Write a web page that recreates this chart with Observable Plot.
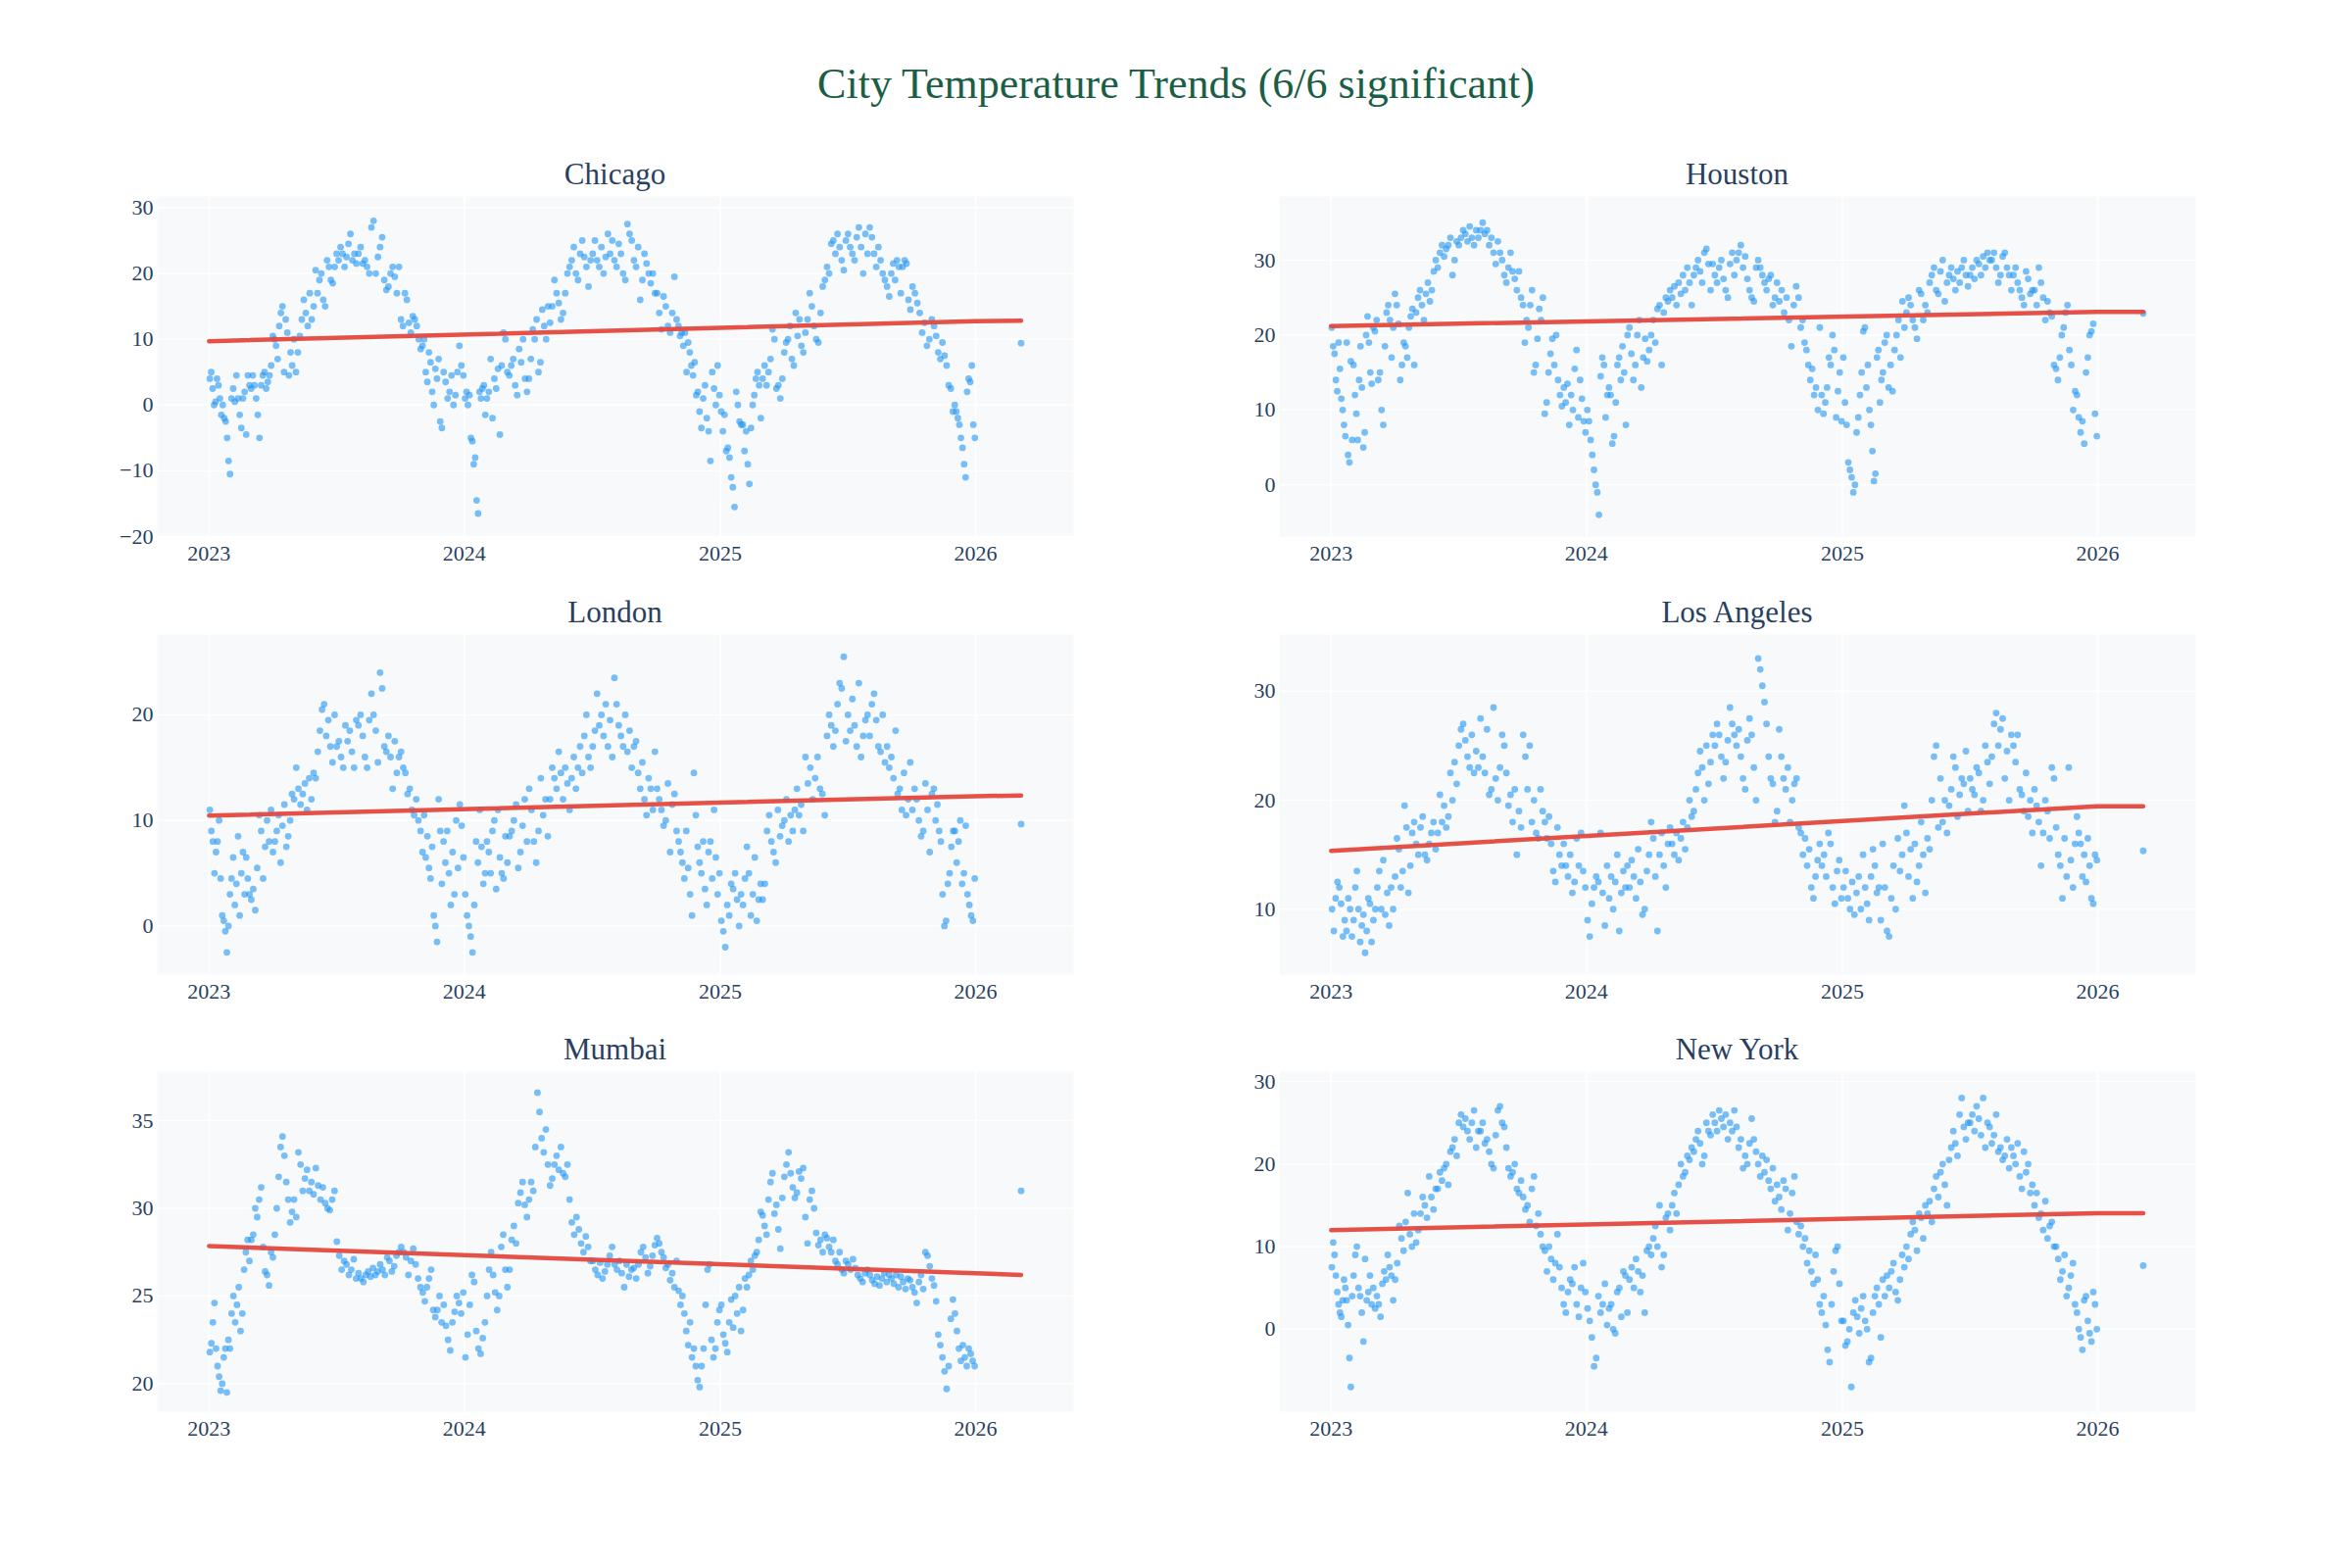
<!DOCTYPE html>
<html><head><meta charset="utf-8">
<script src="https://cdn.jsdelivr.net/npm/d3@7"></script>
<script src="https://cdn.jsdelivr.net/npm/@observablehq/plot@0.6"></script>
<style>
html,body{margin:0;padding:0;background:#fff;}
#root{position:relative;width:2400px;height:1600px;overflow:hidden;}
#root svg{position:absolute;}
</style>
</head><body><div id="root"></div>
<script>
// ---------------- data (monthly groups of daily readings, Jan 2023 .. Dec 2025) ----------------
const chartTitle = "City Temperature Trends (6/6 significant)";
const cityNames = ["Chicago","Houston","London","Los Angeles","Mumbai","New York"];
const xTickYears = [2023, 2024, 2025, 2026];
const firstDay = "2023-01-01", lastSeriesDay = "2025-12-31", extraDay = "2026-03-07";

const chicago = [
"4 5 2.5 0 0.5 4 3 1 -1.5 0 -2 -2.5 -5 -8.5 -10.5","1 2.5 0.5 4.5 1 -1.5 -3.5 1 2 -4.5 4.5 3","2.5 4.5 3 1 -1.5 -5 3 4.5 5 2.5 3.5 4.5 6","10.5 10 9 7 12 14 15 5 13 11 4.5 8 6",
"10 5 8 10.5 13 16 14 12 17 13 15","20.5 17 19 20 16 15 22 21 19 18.5 21","23 22 24 23 21 22.5 24.5 26 22 23 21.5","23 24 21.5 22 21 20 27 28 20 22.5",
"24 25.5 19 17.5 18 20 21 19.5 17 21","13 12 17 16 12.5 11 13.5 13 12 10 8.5","9 10 5 3.5 8 6.5 2 0 5.5 4 7 -2.5 -3.5","5 3.5 1 2 4.5 0 1.5 5 9 6 4.5",
"1 2 0 1.5 -5 -5.5 -9 -8 -14.5 -16.5 2 1 2.5 3 -1.5","1 2 7 -2 4 2.5 5.5 -4.5 6 11 10","5 4.5 6 7 3 1.5 8.5 6.5 10 4 2","4 7 11.5 10 13 5 6.5 14.5 12 10 15",
"12.5 15 19 17 15.5 13 14 17 20 21","22 24 20 19 23 25 22.5 21 18 22","23 25 22 21 24 20 22.5 26 23 25","22 21 24.5 23 20 19 27.5 26 25 22",
"21 24 16 19 23 21.5 20 18.5 20 17","17 14 11.5 16.5 15 12 11 14 19.5 13","12 10.5 11 9 11 5 9.5 8 6 4.5 6.5 1.5 2","-1 -3.5 1 3 -2 -4 -8.5 5 2.5 0 6 1.5",
"-1 -4 -1.5 -7 -6.5 -8 -11 -12.5 -15.5 2 0 -2.5 -3","-3 -7 -4 -9 -12 -3.5 0 1.5 4 5 3 -2","4 6 3 5 7 11.5 10 2.5 3 1 4","8 9.5 10 12 7 6 14 10.5 13 9 8",
"11 13 17 15 12 10 9.5 14 18 19","21 20 24.5 25 23 26 24 22 20.5 25","26 24 23 22 25.5 27 24 20 26 23","27 25.5 23 21 24 22 20 19 18 16.5",
"20 21.5 19 22 21 17 21 22 21.5 16 14.5","18 17 15.5 14 11 12.5 9 10 13","12 10.5 8 7 9.5 7.5 6 3 2.5 -1","0 -1 -2 -3 -5 -6.5 -9 -11 2 4 3.5 6 -3 -5"
];
const houston = [
"21 18.5 17.5 14 12.5 19 15.5 11.5 10 8 6.5 19 4 3 16.5 6","16 12 9.5 6 14 18.5 13 5 7 20 22.5 19 15 13.5","21 20.5 22 14 15 10 8 18.5 23 24 22 17 21","25.5 24 21.5 14 16 19 18.5 17 21 22.5 23.5 16",
"23 25 26 24 22 25.5 27 24.5 26 28.5 30","29 31 32 30.5 31.5 32 33 28 30 32.5","32 33 34 33.5 32.5 34.5 33 32 34 33","34 35 33.5 34 32 33 31 29.5 32.5 31",
"30 28 27 29 31 28.5 27.5 26 28.5 25","24 19 22 21 24 26 15 16 19.5 23.5 22 25","9.5 11 15 17.5 19.5 16 20 14 12 10.5 13","11 13.5 8 12 10 15.5 18 9 14 11.5 8.5 7",
"10 8.5 6 4 2 0 -1 -4 14.5 17 16 9 12","13 12 5.5 6.5 11 16 17 14 18.5 15 8 20","21 17.5 14 16 20 22 13 17 19.5 16.5 18","20 22 19 23.5 24 16 23 25 24.5 26",
"25 26.5 24 27 25.5 28 26 29 27 24","28 29 30 28.5 27 31 31.5 29.5 26 29.5","28 27 29 30 27.5 26 25 29.5 31 28","30 31 32 29 30.5 27.5 26 25 24.5 29",
"30 29 28 27 26 27.5 28 24 25 27","24.5 26 23 25 22 18.5 24 26.5 25","21 22 19 18 16 14 15.5 12 13 10 21","12 9.5 11 13 17 16 20 18 9 12.5 15 8.5",
"17 11 8 3 2 1 -1 0 7 9 12 15 20.5","21 13 16 10 8 4.5 0.5 1.5 17 18 11 14 15","19 20 13 16 12.5 18 20 22 17 24.5 21","23 25 24 22 21 19.5 26 25.5 22 24",
"23 27 28 29 26 25.5 28.5 30 24.5 27","28 29 27.5 26 28.5 27 29 30 28 26.5","28 29 27.5 30 29.5 28 30.5 29 31 30","30 31 29 27 28 30.5 31 29 28 26",
"28 29 27 26 25 24 28.5 27.5 25.5 26","26 24 29 27 25 22 24.5 23 22.5 16","15.5 14 17 20 21 23 24 18 16 10 12.5","12 9 7 8.5 5.5 15 17 20 20.5 21.5 9.5 6.5"
];
const london = [
"11 9 8 5 7 8 10 4.5 1 0.5 -0.5 -2.5 0 3","4.5 6.5 2 4 8.5 1 5 7 3 6.5 4.5 3","2.5 3.5 1.5 5.5 10.5 9 4.5 7.5 10 8 11","7 8 9 10.5 6 9.5 11.5 7.5 8.5 10 12.5",
"12 15 13 11.5 12.5 13.5 11 14 12 14.5","14 16.5 18.5 20.5 21 18 19.5 17 15.5 20","17 17.5 16 15 19 17.5 18.5 16.5 15 19.5","19 20 18 16 15 19.5 22 20 18.5 15.5",
"24 22.5 17 16.5 18 16 13 17.5 14.5 16","16.5 15 14.5 12.5 13 11 10.5 12 10 9","7 10.5 6.5 8.5 5.5 4.5 7.5 1 0 -1.5 12 9 4","8 6 9 5 2 7 3 10 5.5 11.5 9.5 6.5",
"3 1 0 -1 -2.5 2 8 6 11 7.5 4 5","8 7 5 9 10 3.5 11 6.5 5 4.5 8.5","6 8.5 9 10 11.5 5.5 7 9.5 12 8","13 11 8 6 9 14 10.5 12 8.5",
"12 15 14 13 16.5 14.5 12 15 13.5 11","14 16 13 15 17 14.5 18 20 16 15","17 18.5 22 19 20 18 21 17 19.5 16","23.5 21 19 18 17 20 16.5 18.5 15 17",
"17.5 14.5 13 15.5 12 10.5 14 13 11 16.5","13 12 11 9.5 10 13.5 7 11.5 12.5 9","8 7 6 4.5 9 5.5 3 1 14.5 10.5 7.5","6 5 8 3.5 2 7 8 4.5 11 6.5 3 5",
"0.5 -0.5 -2 2 1 4 3.5 5 2.5 0 3","2 4.5 7.5 5 1 3 6.5 0.5 2.5 4","2.5 4 9 10.5 8 7 6 11 8.5 9.5","10 12 8 10.5 9 11 13 10.5 11.5 9",
"16 13.5 15 12 14 16 13 12.5 10.5","18 20 19 17 18.5 21 23 22.5 25.5 17.5","20 18.5 21.5 19 17 23 16 18 19.5 20","18 21 22 19.5 17 16.5 20 15.5 17 15",
"16 14 18.5 12.5 13 11 14.5 10.5 12 15.5","11 13 12 10 8.5 9 13.5 11 7 12.5","13 10 11.5 9 8 3 0 0.5 4 5 7.5 9","9 6 8 10 4 5 9.5 3 2 1 0.5 4.5"
];
const losAngeles = [
"10 8 11 12.5 12 10.5 7.5 9 8 11 10 7.5","9 12 13.5 10 7 8.5 9.5 6 8 11 10.5 7","9 10 12 13.5 10 14.5 9.5 11.5 8.5 12 10","13 16.5 15.5 12 13.5 19.5 17.5 11.5 14 17 18",
"16 15 17.5 18.5 15 14.5 16 17 18 15.5","17 20.5 18 19.5 17.5 18.5 22.5 20 23.5 21.5","25 26.5 27 25.5 24 23 26 22.5 24.5 23","27.5 24 22.5 26.5 20.5 21 28.5 22 20 23",
"26 25 22.5 19.5 20.5 18 21 15 19 17.5","26 24 21 25 18 20 17 16.5 21 19","18 16.5 18.5 16 13.5 12.5 17.5 15 14 16","14 13 15 11.5 12.5 16.5 14 17 13.5 12",
"9 7.5 10.5 12 13 12.5 17 11.5 8.5 14","11 13 10 12.5 15 8 11.5 13.5 12 14","12 14.5 13 11 15.5 12.5 9.5 10 13.5 15","18 16.5 13 8 15 17 14 12 16 17.5",
"16 15 17 14.5 16.5 18 15.5 17.5 20 18.5","19 21 22.5 24.5 23 20 25 21.5 23.5 26","25 27 26 24 22 23.5 25.5 28.5 27 26","25 26.5 24 22 21 25.5 27.5 26 23 20",
"33 32 30.5 29 27 24 22 21.5 18 19","26.5 24 22 21 23 18 20 21.5 22 17.5","17 15 16.5 14 15.5 12 11 13 14.5 16","14 15 13 17 16 12 10.5 13.5 14.5 11",
"12 13.5 11 10 12.5 9.5 11.5 13 10 15","12 10.5 9 13 15.5 14 11.5 12 9 16","12 8 7.5 11 14 10 16.5 13.5 15 19.5","17 13 15.5 11 16 12.5 14 18 15 11.5",
"16.5 15.5 20 24 25 17.5 22 18 20 17","19.5 21 24 23 18.5 20.5 22 21.5 24.5 19","22 21 20.5 23 22.5 19 20 25 23.5 21.5","24 27 28 25 26.5 27.5 22 24.5 20 26",
"25 23.5 26 21 20.5 19 22.5 18.5 20 17","21 19.5 18 14 17 20 19 16.5 23 22","17.5 15 14 11 16.5 13 23 14.5 12 16","18.5 17 16 13 15 12.5 16.5 14 11 10.5 15 14.5"
];
const mumbai = [
"21.8 22.3 23.5 24.6 22 21 20.4 19.6 20 21.5 22 19.5 22.5 22","24 25 23.5 24.5 25.5 23 24 26.5 27.5 28.2 27","28.2 28.5 30 29.5 30.5 31.2 27.8 26.4 26.2 25.6 27.5","27.2 28.5 30 31.8 33.5 34.1 33 31.5 30.5 29.2 29.8",
"30.5 29.5 33.2 32.5 31 31.7 32.2 31 31.5 30.8","32.3 31.3 30.5 31.2 30.3 30 29.9 30.5 31","28.1 27.3 26.5 27 26.8 26.2 26.5 27.1 26","26.3 26 25.8 26.2 26.4 26.1 26.6 26.2 26.4",
"26.8 26.5 26.2 27.2 27 26.4 26.7 27.3 27.5","27.8 27.5 27.2 26.2 27 27.7 26.8 26 25.5","25.2 24.7 25.5 26 26.5 24.2 23.8 24.2 25 23.5","24.5 23.3 22.5 21.9 23.5 24.1 25 24.6 24 25.2",
"21.5 22.8 24.5 26.2 25.8 23 22 21.7 22.6 23.5","25 26.5 27.5 26.2 25.2 24.2 25 27.8 28.5 26.5","25.5 26.5 28.2 29 28 30.3 30.9 31.5 30.2 29.5","30.5 31.5 31 33.5 36.6 35.5 34 33.2 34.5 32.5",
"31.3 31.7 32.5 33 32.2 33.5 32 31.8 32.5 30.5","29.2 28.5 29.5 28.8 28 27.5 28.4 27.8 27","27 26.5 26.2 26.9 26 26.4 26.8 27.3 27.8","26.8 26.5 27 26.3 25.5 26.8 26.1 26.5 26.6",
"26 26.8 27.5 27.8 27.2 26.3 26.7 27.3 27.9","28.3 28 27.5 27.2 26.6 26.8 25.9 26.3 25.5 27","25.3 24.5 25 24 23 22.2 23.5 21.5 22 21 20.2","19.8 21 22 24.5 26.5 26.8 22.5 21.5 22 23.5 24.2",
"24.5 22.8 22.3 21.8 23.5 24.8 23.2 25 24 25.5 23","24.2 26 25.5 26.2 27 26.5 27.3 27.5 28.2 29.8","29.6 29 28.5 30.5 31.5 32 29.7 30.2 28.8 27.7 30.6","31.8 32.5 33.2 32 31.2 30.6 30.9 32.1 31.7 32.3",
"29.5 28 30.5 31 30 28.6 27.9 28.2 27.5 28.5","28.3 27.8 27.5 28.2 27 26.8 27.5 26.5 26.3 27","26.8 26.5 27.1 26.6 26.2 26 25.8 26.3 26.5","26.2 25.9 25.7 26.1 25.6 26 26.3 25.8 26.2",
"26 25.7 26.2 25.5 26.1 25.8 25.4 26 25.9","25.5 25.2 24.6 25.8 26.2 25.4 27.5 27.3 26.7 26","25.6 24.7 22.8 22.2 21.5 20.7 19.7 21 23.7 24.8","24 23 22 21.3 22.2 21.5 21 22 21.7 21.3 21"
];
const newYork = [
"7.5 10.5 9 6.5 4.5 3 2 1.5 3.5 6 5 3.5 0.5 -3.5 -7 4","6.5 9 10 5 4 2 -1.5 8.5 3.5 4.5 6.5 3","5 2.5 4 3 1.5 5.5 7 6 9 7.5 6.5 3.5","6 8 12.5 11 9.5 13 16.5 11.5 10 14",
"10.5 12 14 16 15 13.5 18.5 16 14.5 17","17 19 18 19.5 20 17.5 21.5 22 23 21","25 26 24.5 25.5 24 23 25 26.5 22 24","24 25 22.5 23 21.5 20 19.5 23.5 26.5 27",
"25 24.5 22 19.5 18.5 19 20 17 16.5 18","16 14.5 15 13 17 18.5 12.5 14 11.5 10","9.5 7 10 8.5 6 8 11.5 7.5 5 3","2 4.5 6 5.5 7.5 3 1.5 5 8 4.5",
"2.5 1 -1 -4.5 -3.5 4 2 3 5.5 0.5","2.5 3 0 -0.5 4.5 5 1.5 7 6.5 2","6 7.5 5 8.5 7 4.5 6.5 2 9.5 10","9 11 12.5 10 15 7.5 9 13.5 14 12",
"15 16.5 14 17.5 20 18.5 19 21 20.5 22","21.5 23 24 22.5 20 21 25 24 23.5 26","25 24 26.5 25.5 24.5 26 23 25 24 26.5","24.5 22 23 19.5 21 20 22.5 25.5 23 21.5",
"20 18.5 21 19 20.5 18 17 19.5 15.5 17.5","16 14.5 18 17 12 14 16.5 18.5 13 11.5","12.5 10 11 8 9.5 7 5.5 9 6 3","2 4 0.5 -2.5 -4 3 7 9.5 10 5.5 1",
"1 -2 -1.5 0 -7 2 3.5 1.5 -0.5 2.5 4","1 0 -4 -3.5 2 4 5 3 -1 6","4 6.5 5 7 8 4.5 3.5 6 9 7.5","10 8.5 11.5 13 12 9.5 14 13.5 11 15",
"14 15.5 13 17 18.5 16 19 20 17.5 15","20.5 22 24 22.5 21 26 28 24.5 23 25","25 26 24 27 25.5 23.5 28 22 25 24.5","22.5 23.5 26 21.5 22 20.5 21 23 19.5 22",
"21 20 22.5 18.5 17 21.5 19 20 16.5 17.5","15 16.5 13.5 14 12 15.5 11 12.5 13 10","10 8.5 6 7 9 4 5 6.5 8 3","2 0 -1 -2.5 3.5 4 1 -0.5 -1.5 4.5 3 0"
];
// fitted trend: value at first day, at last series day, at the extra reading
const trendChicago = [9.7, 12.75, 12.8], trendHouston = [21.2, 23.1, 23.1], trendLondon = [10.45, 12.3, 12.35];
const trendLosAngeles = [15.35, 19.45, 19.45], trendMumbai = [27.85, 26.3, 26.2], trendNewYork = [12.0, 14.05, 14.05];
// extra reading on extraDay
const extraValues = [9.4, 22.9, 9.65, 15.35, 31.0, 7.7];
// y axis ranges and ticks
const yRanges = [[-20, 31.7], [-6.9, 38.5], [-4.6, 27.6], [4.0, 35.2], [18.4, 37.8], [-10.0, 31.2]];
const yTickSets = [[-20,-10,0,10,20,30], [0,10,20,30], [0,10,20], [10,20,30], [20,25,30,35], [0,10,20,30]];

// ---------------- layout ----------------
const FONT = "'Liberation Serif','Times New Roman',serif";
const INK = "#2a3f5f";
const colLefts = [160, 1305], rowTops = [200, 647, 1093];
const PW = 935, PH = 347;
const mL = 80, mR = 20, mB = 50;
const xDomain = [new Date("2022-10-19"), new Date("2026-05-21")];
const xTicks = xTickYears.map(y => new Date(Date.UTC(y, 0, 1)));

const root = document.getElementById("root");
const monthlySets = [chicago, houston, london, losAngeles, mumbai, newYork];
const trends = [trendChicago, trendHouston, trendLondon, trendLosAngeles, trendMumbai, trendNewYork];

function expand(monthly) {
  const pts = [];
  monthly.forEach((s, m) => {
    const vals = s.trim().split(/\s+/).map(Number);
    const yr = 2023 + Math.floor(m / 12), mo = m % 12;
    const a = Date.UTC(yr, mo, 1), b = Date.UTC(yr, mo + 1, 1);
    vals.forEach((v, j) => pts.push({date: new Date(a + (j + 0.5) / vals.length * (b - a)), temp: v}));
  });
  return pts;
}

cityNames.forEach((name, i) => {
  const col = i % 2, row = Math.floor(i / 2);
  const left = colLefts[col], top = rowTops[row];
  const pts = expand(monthlySets[i]);
  pts.push({date: new Date(extraDay), temp: extraValues[i]});
  const tr = trends[i];
  const line = [
    {date: new Date(firstDay), temp: tr[0]},
    {date: new Date(lastSeriesDay), temp: tr[1]},
    {date: new Date(extraDay), temp: tr[2]}
  ];
  const chart = Plot.plot({
    width: PW + mL + mR, height: PH + mB,
    marginLeft: mL, marginRight: mR, marginTop: 0, marginBottom: mB,
    style: {fontFamily: FONT, fontSize: "22px", color: INK, background: "transparent", overflow: "visible"},
    x: {type: "utc", domain: xDomain},
    y: {domain: yRanges[i]},
    marks: [
      Plot.frame({fill: "#f8f9fb", stroke: "none"}),
      Plot.gridX(xTicks, {stroke: "#ffffff", strokeOpacity: 1, strokeWidth: 1.5}),
      Plot.gridY(yTickSets[i], {stroke: "#ffffff", strokeOpacity: 1, strokeWidth: 1.5}),
      Plot.axisX(xTicks, {tickSize: 0, tickPadding: 9, tickFormat: d3.utcFormat("%Y"), label: null, fontSize: 22}),
      Plot.axisY(yTickSets[i], {tickSize: 0, tickPadding: 4, label: null, fontSize: 22}),
      Plot.dot(pts, {x: "date", y: "temp", r: 3.4, fill: "#2196f3", fillOpacity: 0.6}),
      Plot.line(line, {x: "date", y: "temp", stroke: "#e5483d", strokeWidth: 4.5, strokeOpacity: 0.95})
    ]
  });
  chart.style.left = (left - mL) + "px";
  chart.style.top = top + "px";
  root.appendChild(chart);
});

// titles overlay
const svg = d3.select(root).append("svg").attr("width", 2400).attr("height", 1600)
  .style("left", "0px").style("top", "0px").style("pointer-events", "none");
svg.append("text").attr("x", 1200).attr("y", 100).attr("text-anchor", "middle")
  .attr("font-family", FONT).attr("font-size", 44).attr("fill", "#1a5e45").text(chartTitle);
cityNames.forEach((name, i) => {
  const col = i % 2, row = Math.floor(i / 2);
  svg.append("text").attr("x", colLefts[col] + PW / 2).attr("y", rowTops[row] - 12)
    .attr("text-anchor", "middle").attr("font-family", FONT).attr("font-size", 31)
    .attr("fill", INK).text(name);
});
</script>
</body></html>
